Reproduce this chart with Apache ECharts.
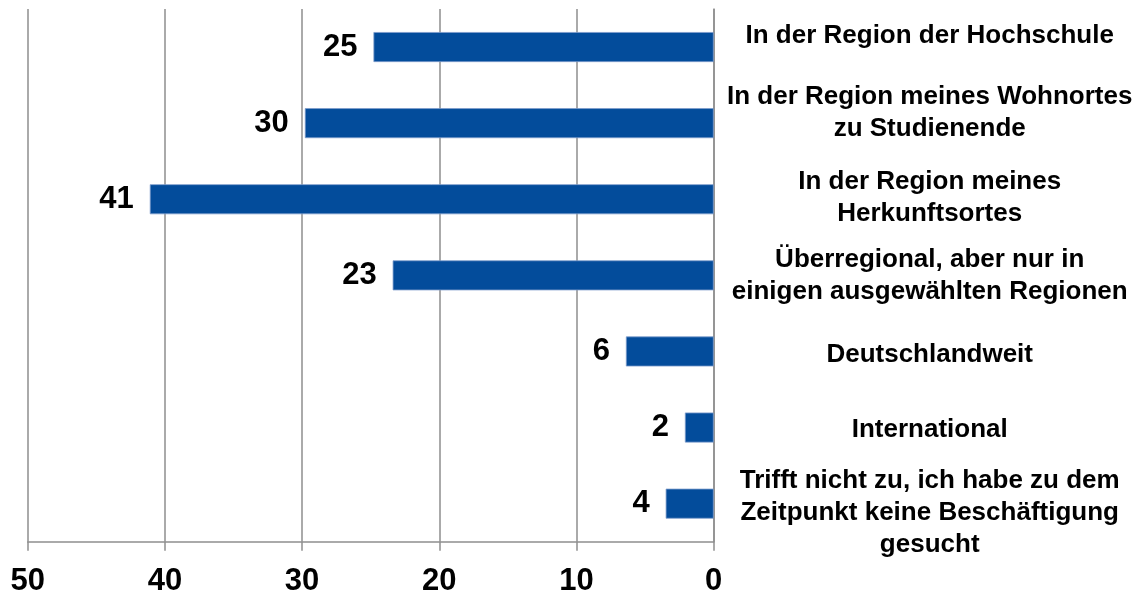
<!DOCTYPE html>
<html>
<head>
<meta charset="utf-8">
<script src="https://cdn.jsdelivr.net/npm/echarts@6/dist/echarts.min.js"></script>
<style>
html,body{margin:0;padding:0;background:#fff;}
#chart{width:1138px;height:594px;}
</style>
</head>
<body>
<div id="chart"></div>
<script>
const categories = [
  'In der Region der Hochschule',
  'In der Region meines Wohnortes\nzu Studienende',
  'In der Region meines\nHerkunftsortes',
  'Überregional, aber nur in\neinigen ausgewählten Regionen',
  'Deutschlandweit',
  'International',
  'Trifft nicht zu, ich habe zu dem\nZeitpunkt keine Beschäftigung\ngesucht'
];
const values = [24.8, 29.8, 41.1, 23.4, 6.4, 2.1, 3.5];
const valueLabels = [25, 30, 41, 23, 6, 2, 4];
const axisMin = 0, axisMax = 50, axisStep = 10;

// vertical nudges for category labels (layout only; + = down)
const labelShift = [-11, -10, -1, 0, 3.5, 2.5, 9.5];

const font = '"Liberation Sans", Arial, sans-serif';
const gridColor = '#8e8e8e';

const rich = {
  t: {color: '#000', fontFamily: font, fontWeight: 'bold', fontSize: 26, lineHeight: 32, align: 'center'}
};
labelShift.forEach((s, i) => {
  const h = Math.max(1, Math.abs(s) * 2);
  rich['sp' + i] = {fontSize: 1, lineHeight: h, height: h, align: 'center'};
});

const chart = echarts.init(document.getElementById('chart'), null, {renderer: 'canvas'});
chart.setOption({
  animation: false,
  backgroundColor: '#ffffff',
  grid: {left: 27.7, right: 424.3, top: 9, bottom: 52.3, containLabel: false, outerBoundsMode: 'none'},
  xAxis: {
    type: 'value',
    inverse: true,
    min: axisMin, max: axisMax, interval: axisStep,
    axisLine: {show: true, lineStyle: {color: gridColor, width: 1.5}},
    axisTick: {show: true, length: 9, lineStyle: {color: gridColor, width: 1.5}},
    splitLine: {show: true, lineStyle: {color: gridColor, width: 1.5}},
    axisLabel: {color: '#000', fontFamily: font, fontWeight: 'bold', fontSize: 31, margin: 24}
  },
  yAxis: {
    type: 'category',
    position: 'right',
    inverse: true,
    data: categories,
    axisLine: {show: true, lineStyle: {color: gridColor, width: 1.5}},
    axisTick: {show: false},
    splitLine: {show: false},
    axisLabel: {
      color: '#000', fontFamily: font, fontWeight: 'bold', fontSize: 26,
      lineHeight: 32, align: 'center', margin: 216,
      formatter: (v, i) => {
        const s = labelShift[i];
        const body = v.split('\n').map(l => '{t|' + l + '}').join('\n');
        if (Math.abs(s) < 0.5) return body;
        const sp = '{sp' + i + '| }';
        return s < 0 ? body + '\n' + sp : sp + '\n' + body;
      },
      rich: rich
    }
  },
  series: [{
    type: 'bar',
    data: values,
    barWidth: 30,
    itemStyle: {color: '#034C9B', borderColor: '#7d9ccc', borderWidth: 0.8},
    label: {
      show: true,
      position: 'left',
      distance: 16,
      formatter: p => String(valueLabels[p.dataIndex]),
      color: '#000', fontFamily: font, fontWeight: 'bold', fontSize: 31
    }
  }]
});
</script>
</body>
</html>
